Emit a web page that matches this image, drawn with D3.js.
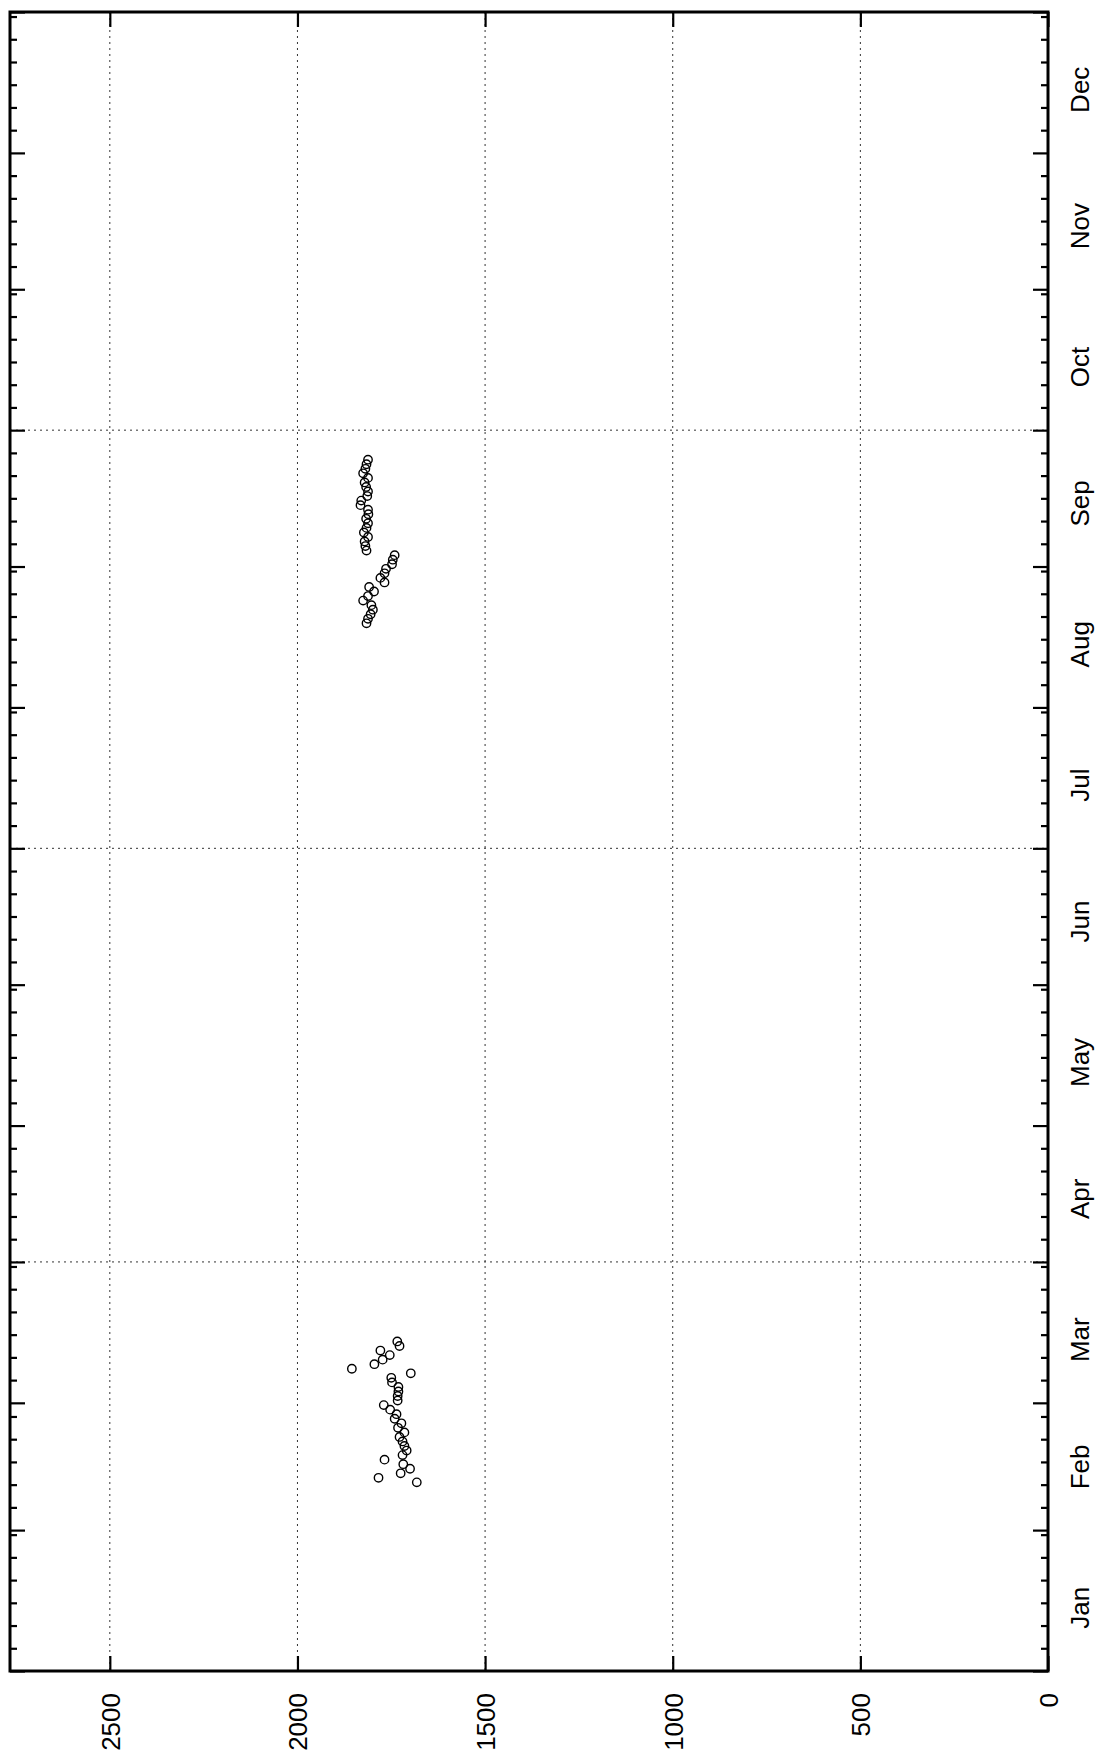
<!DOCTYPE html>
<html>
<head>
<meta charset="utf-8">
<script src="https://cdn.jsdelivr.net/npm/d3@7"></script>
<style>
  html, body { margin: 0; padding: 0; background: #fff; }
  svg { display: block; }
  text { font-family: "Liberation Sans", Arial, Helvetica, sans-serif; fill: #000; }
</style>
</head>
<body>
<div id="chart"></div>
<script>
// ---------- data ----------
const monthLabels = ["Jan","Feb","Mar","Apr","May","Jun","Jul","Aug","Sep","Oct","Nov","Dec"];
const valueTicks = [0, 500, 1000, 1500, 2000, 2500];
const valueGrid = [500, 1000, 1500, 2000, 2500];
const dateGrid = ["2001-04-01", "2001-07-01", "2001-10-01"];
const valueMax = 2766;

const winterDates = [
  "2001-02-11","2001-02-12","2001-02-13","2001-02-14","2001-02-15","2001-02-16",
  "2001-02-17","2001-02-18","2001-02-19","2001-02-20","2001-02-21","2001-02-22",
  "2001-02-23","2001-02-24","2001-02-25","2001-02-26","2001-02-27","2001-02-28",
  "2001-03-01","2001-03-02","2001-03-03","2001-03-04","2001-03-05","2001-03-06",
  "2001-03-07","2001-03-08","2001-03-09","2001-03-10","2001-03-11","2001-03-12",
  "2001-03-13","2001-03-14"
];
const winterValues = [
  1682, 1784, 1725, 1700, 1718, 1768, 1720, 1709, 1715, 1720, 1728, 1715,
  1732, 1723, 1741, 1736, 1753, 1770, 1733, 1733, 1731, 1731, 1748, 1750,
  1698, 1855, 1795, 1773, 1754, 1779, 1728, 1734
];

const summerDates = [
  "2001-08-19","2001-08-20","2001-08-21","2001-08-22","2001-08-23","2001-08-24",
  "2001-08-25","2001-08-26","2001-08-27","2001-08-28","2001-08-29","2001-08-30",
  "2001-08-31","2001-09-01","2001-09-02","2001-09-03","2001-09-04","2001-09-05",
  "2001-09-06","2001-09-07","2001-09-08","2001-09-09","2001-09-10","2001-09-11",
  "2001-09-12","2001-09-13","2001-09-14","2001-09-15","2001-09-16","2001-09-17",
  "2001-09-18","2001-09-19","2001-09-20","2001-09-21","2001-09-22","2001-09-23",
  "2001-09-24"
];
const summerValues = [
  1816, 1812, 1805, 1799, 1803, 1825, 1812, 1796, 1809, 1768, 1779, 1768,
  1764, 1748, 1746, 1741, 1816, 1819, 1821, 1812, 1823, 1816, 1812, 1817,
  1811, 1812, 1832, 1830, 1814, 1812, 1817, 1821, 1812, 1825, 1819, 1816,
  1812
];

// ---------- layout ----------
const W = 1112, H = 1756;
const plotL = 10, plotR = 1048, plotT = 12, plotB = 1671;
const fontSize = 26;
const cap = fontSize * 0.716;

const parse = d3.utcParse("%Y-%m-%d");
const svg = d3.select("#chart").append("svg").attr("width", W).attr("height", H);
svg.append("rect").attr("width", W).attr("height", H).attr("fill", "#fff");

// value scale runs horizontally (0 at right), date scale vertically (Jan at bottom)
const xv = d3.scaleLinear().domain([0, valueMax]).range([plotR, plotL]);
const yd = d3.scaleUtc().domain([parse("2001-01-01"), parse("2002-01-01")]).range([plotB, plotT]);

// grid
const grid = svg.append("g").attr("stroke", "#333").attr("stroke-width", 1)
  .attr("stroke-dasharray", "2,4").attr("fill", "none");
grid.selectAll("line.v").data(valueGrid).join("line").attr("class", "v")
  .attr("x1", d => xv(d)).attr("x2", d => xv(d)).attr("y1", plotT).attr("y2", plotB);
grid.selectAll("line.h").data(dateGrid.map(parse)).join("line").attr("class", "h")
  .attr("x1", plotL).attr("x2", plotR).attr("y1", d => yd(d)).attr("y2", d => yd(d));

// axes (ticks pointing inward)
function styleAxis(g) {
  g.select(".domain").remove();
  g.selectAll(".tick line").attr("stroke", "#000").attr("stroke-width", 2.2);
}
const majorDates = d3.utcMonth.range(parse("2001-01-01"), parse("2002-01-02"));
const minorDates = d3.utcDay.every(5).range(parse("2001-01-01"), parse("2002-01-01"))
  .filter(d => d.getUTCDate() !== 1);

[[plotL, d3.axisLeft], [plotR, d3.axisRight]].forEach(([xPos, ax]) => {
  svg.append("g").attr("transform", `translate(${xPos},0)`)
    .call(ax(yd).tickValues(majorDates).tickSize(-15).tickFormat(""))
    .call(styleAxis);
  svg.append("g").attr("transform", `translate(${xPos},0)`)
    .call(ax(yd).tickValues(minorDates).tickSize(-7).tickFormat(""))
    .call(styleAxis);
});

svg.append("g").attr("transform", `translate(0,${plotT})`)
  .call(d3.axisTop(xv).tickValues(valueTicks).tickSize(-15).tickFormat(""))
  .call(styleAxis);

const bottomAxis = svg.append("g").attr("transform", `translate(0,${plotB})`)
  .call(d3.axisBottom(xv).tickValues(valueTicks).tickSize(-15).tickFormat(d3.format("d")))
  .call(styleAxis);
bottomAxis.selectAll(".tick text")
  .attr("x", 0).attr("y", 0).attr("dy", 0)
  .attr("text-anchor", "end")
  .attr("transform", `translate(${cap / 2},${22}) rotate(-90)`)
  .style("font-size", fontSize + "px")
  .style("font-family", "'Liberation Sans', Arial, Helvetica, sans-serif")
  .attr("fill", "#000");

// month labels on the right side
const monthMid = majorDates.slice(0, 12).map(d => d3.utcDay.offset(d, 14));
const monthAxis = svg.append("g").attr("transform", `translate(${plotR},0)`)
  .call(d3.axisRight(yd).tickValues(monthMid).tickSize(0)
    .tickFormat((d, i) => monthLabels[i]))
  .call(g => g.select(".domain").remove());
monthAxis.selectAll(".tick line").remove();
monthAxis.selectAll(".tick text")
  .attr("x", 0).attr("y", 0).attr("dy", 0)
  .attr("text-anchor", "middle")
  .attr("transform", `translate(${22 + cap},0) rotate(-90)`)
  .style("font-size", fontSize + "px")
  .style("font-family", "'Liberation Sans', Arial, Helvetica, sans-serif")
  .attr("fill", "#000");

// frame
svg.append("rect").attr("x", plotL).attr("y", plotT)
  .attr("width", plotR - plotL).attr("height", plotB - plotT)
  .attr("fill", "none").attr("stroke", "#000").attr("stroke-width", 3);

// points (daily values, plotted at mid-day)
const pts = winterDates.map((d, i) => ({ date: parse(d), v: winterValues[i] }))
  .concat(summerDates.map((d, i) => ({ date: parse(d), v: summerValues[i] })));
svg.append("g").selectAll("circle").data(pts).join("circle")
  .attr("cx", d => xv(d.v))
  .attr("cy", d => yd(d3.utcHour.offset(d.date, 12)))
  .attr("r", 4.2)
  .attr("fill", "none").attr("stroke", "#000").attr("stroke-width", 1.4);
</script>
</body>
</html>
